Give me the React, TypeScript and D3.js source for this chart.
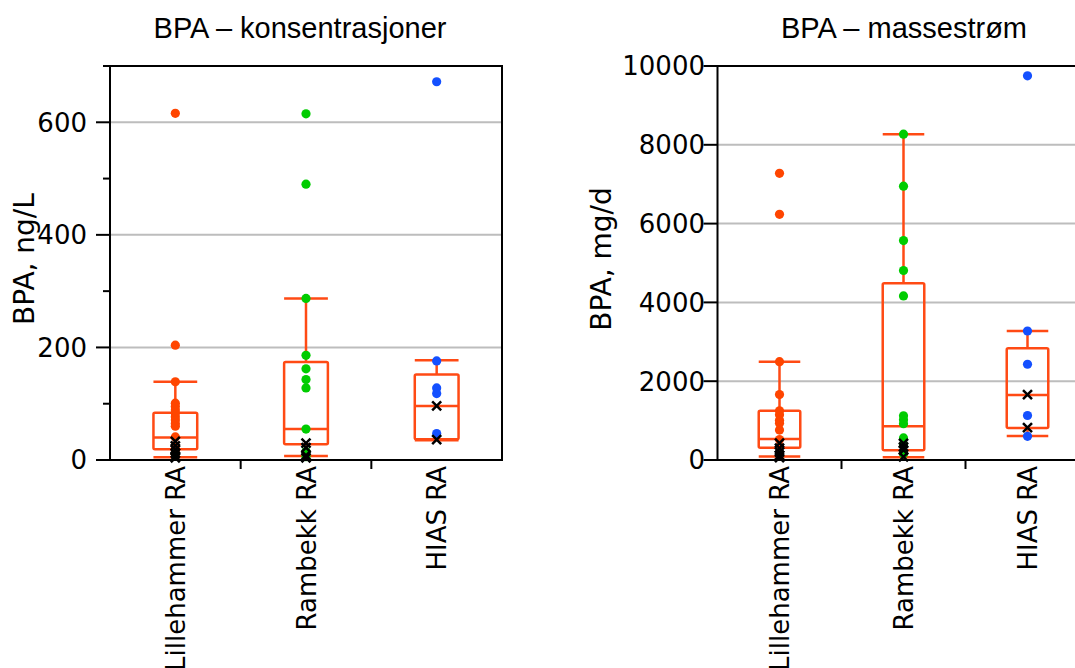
import React from "react";
import * as d3 from "d3";

// ---------- data ----------
const categories = ["Lillehammer RA", "Rambekk RA", "HIAS RA"];

// Concentrations, ng/L
const concLillehammer = [616, 204, 139, 101, 95, 89, 83, 77, 71, 65, 60, 41, 25, 18, 10];
const concRambekk = [615, 490, 287, 186, 162, 143, 128, 55, 15, 6];
const concHias = [672, 176, 128, 118, 47];
const concLillehammerLoq = [33, 25, 18, 12, 7, 4];
const concRambekkLoq = [30, 22, 8, 4];
const concHiasLoq = [96, 36];
const concLo = [5, 7, 35];
const concQ1 = [19, 28, 37];
const concMed = [40, 55, 96];
const concQ3 = [84, 174, 152];
const concHi = [139, 287, 177];
const concMajorTicks = [0, 200, 400, 600];
const concMinorTicks = [100, 300, 500, 700];
const concGrid = [200, 400, 600];

// Mass flow, mg/d
const flowLillehammer = [7276, 6236, 2495, 1660, 1250, 1150, 1010, 930, 760, 520, 335];
const flowRambekk = [8270, 6950, 5570, 4810, 4165, 1120, 1020, 920, 560, 390, 160];
const flowHias = [9750, 3274, 2430, 1130, 600];
const flowLillehammerLoq = [430, 300, 200, 120, 60];
const flowRambekkLoq = [420, 330, 250, 80];
const flowHiasLoq = [1660, 820];
const flowLo = [90, 68, 609];
const flowQ1 = [310, 245, 815];
const flowMed = [530, 855, 1650];
const flowQ3 = [1250, 4484, 2834];
const flowHi = [2495, 8270, 3274];
const flowMajorTicks = [0, 2000, 4000, 6000, 8000, 10000];
const flowMinorTicks: number[] = [];
const flowGrid = [2000, 4000, 6000, 8000];

const seriesColors = ["#FF4500", "#00CC00", "#1450FF"];
const boxColor = "#FF4A14";

type PanelProps = {
  left: number;
  top: number;
  width: number;
  height: number;
  domain: [number, number];
  title: string;
  titleX: number;
  yLabel: string;
  yLabelX: number;
  labelEnd: number;
  points: number[][];
  loq: number[][];
  lo: number[];
  q1: number[];
  med: number[];
  q3: number[];
  hi: number[];
  major: number[];
  minor: number[];
  grid: number[];
  rightBorder: boolean;
};

const tickFont = "'DejaVu Sans', Verdana, sans-serif";
const titleFont = "'Liberation Sans', Arial, Helvetica, sans-serif";

function Panel(p: PanelProps) {
  const x = d3
    .scaleBand<string>()
    .domain(categories)
    .range([p.left, p.left + p.width])
    .padding(0);
  const y = d3
    .scaleLinear()
    .domain(p.domain)
    .range([p.top + p.height, p.top]);
  const bw = x.bandwidth();
  const boxW = bw * 0.335;
  const bottom = p.top + p.height;
  const right = p.left + p.width;
  const cross = 4.5;

  return (
    <g>
      {p.grid.map((g) => (
        <line
          key={"g" + g}
          x1={p.left}
          x2={right}
          y1={y(g)}
          y2={y(g)}
          stroke="#BDBDBD"
          strokeWidth={2}
        />
      ))}
      {categories.map((c, i) => {
        const cx = x(c)! + bw / 2;
        return (
          <g key={"b" + c} stroke={boxColor} strokeWidth={2.5} fill="none">
            <line x1={cx} x2={cx} y1={y(p.q3[i])} y2={y(p.hi[i])} />
            <line x1={cx} x2={cx} y1={y(p.q1[i])} y2={y(p.lo[i])} />
            <line x1={cx - boxW / 2} x2={cx + boxW / 2} y1={y(p.hi[i])} y2={y(p.hi[i])} />
            <line x1={cx - boxW / 2} x2={cx + boxW / 2} y1={y(p.lo[i])} y2={y(p.lo[i])} />
            <rect
              x={cx - boxW / 2}
              y={y(p.q3[i])}
              width={boxW}
              height={y(p.q1[i]) - y(p.q3[i])}
              rx={1.5}
            />
            <line x1={cx - boxW / 2} x2={cx + boxW / 2} y1={y(p.med[i])} y2={y(p.med[i])} />
          </g>
        );
      })}
      {categories.map((c, i) => {
        const cx = x(c)! + bw / 2;
        return (
          <g key={"p" + c}>
            {p.points[i].map((v, j) => (
              <circle key={j} cx={cx} cy={y(v)} r={4.6} fill={seriesColors[i]} />
            ))}
            {p.loq[i].map((v, j) => (
              <path
                key={"x" + j}
                d={`M${cx - cross},${y(v) - cross}L${cx + cross},${y(v) + cross}M${cx - cross},${y(v) + cross}L${cx + cross},${y(v) - cross}`}
                stroke="#000"
                strokeWidth={2.5}
              />
            ))}
          </g>
        );
      })}
      <g stroke="#000" strokeWidth={2} fill="none">
        <line x1={p.left} x2={p.left} y1={p.top} y2={bottom} />
        <line x1={p.left - 1} x2={right + 1} y1={p.top} y2={p.top} />
        <line x1={p.left - 1} x2={right + 1} y1={bottom} y2={bottom} />
        {p.rightBorder && <line x1={right} x2={right} y1={p.top} y2={bottom} />}
        {categories.slice(1).map((c) => (
          <line key={"s" + c} x1={x(c)!} x2={x(c)!} y1={bottom} y2={bottom + 9} />
        ))}
        {p.major.map((t) => (
          <line key={"M" + t} x1={p.left - 14} x2={p.left} y1={y(t)} y2={y(t)} />
        ))}
        {p.minor.map((t) => (
          <line key={"m" + t} x1={p.left - 7} x2={p.left} y1={y(t)} y2={y(t)} />
        ))}
      </g>
      {p.major.map((t) => (
        <text
          key={"t" + t}
          x={p.labelEnd}
          y={y(t)}
          dy="0.36em"
          textAnchor="end"
          fontFamily={tickFont}
          fontSize={26}
          fill="#000"
        >
          {t}
        </text>
      ))}
      {categories.map((c) => {
        const cx = x(c)! + bw / 2;
        return (
          <text
            key={"c" + c}
            transform={`translate(${cx + 9.5},${bottom + 6}) rotate(-90)`}
            textAnchor="end"
            fontFamily={tickFont}
            fontSize={26}
            fill="#000"
          >
            {c}
          </text>
        );
      })}
      <text
        transform={`translate(${p.yLabelX},${p.top + p.height / 2 - 4}) rotate(-90)`}
        textAnchor="middle"
        fontFamily={tickFont}
        fontSize={28}
        fill="#000"
      >
        {p.yLabel}
      </text>
      <text
        x={p.titleX}
        y={38}
        textAnchor="middle"
        fontFamily={titleFont}
        fontSize={29}
        fill="#000"
      >
        {p.title}
      </text>
    </g>
  );
}

export default function App() {
  return (
    <svg
      width={1075}
      height={668}
      style={{ position: "absolute", left: 0, top: 0, background: "#fff" }}
    >
      <rect x={0} y={0} width={1075} height={668} fill="#fff" />
      <Panel
        left={110}
        top={66}
        width={392}
        height={394}
        domain={[0, 700]}
        title="BPA – konsentrasjoner"
        titleX={300}
        yLabel="BPA, ng/L"
        yLabelX={34}
        labelEnd={87}
        points={[concLillehammer, concRambekk, concHias]}
        loq={[concLillehammerLoq, concRambekkLoq, concHiasLoq]}
        lo={concLo}
        q1={concQ1}
        med={concMed}
        q3={concQ3}
        hi={concHi}
        major={concMajorTicks}
        minor={concMinorTicks}
        grid={concGrid}
        rightBorder={true}
      />
      <Panel
        left={717.5}
        top={66}
        width={372}
        height={394}
        domain={[0, 10000]}
        title="BPA – massestrøm"
        titleX={904}
        yLabel="BPA, mg/d"
        yLabelX={611}
        labelEnd={705}
        points={[flowLillehammer, flowRambekk, flowHias]}
        loq={[flowLillehammerLoq, flowRambekkLoq, flowHiasLoq]}
        lo={flowLo}
        q1={flowQ1}
        med={flowMed}
        q3={flowQ3}
        hi={flowHi}
        major={flowMajorTicks}
        minor={flowMinorTicks}
        grid={flowGrid}
        rightBorder={true}
      />
    </svg>
  );
}
